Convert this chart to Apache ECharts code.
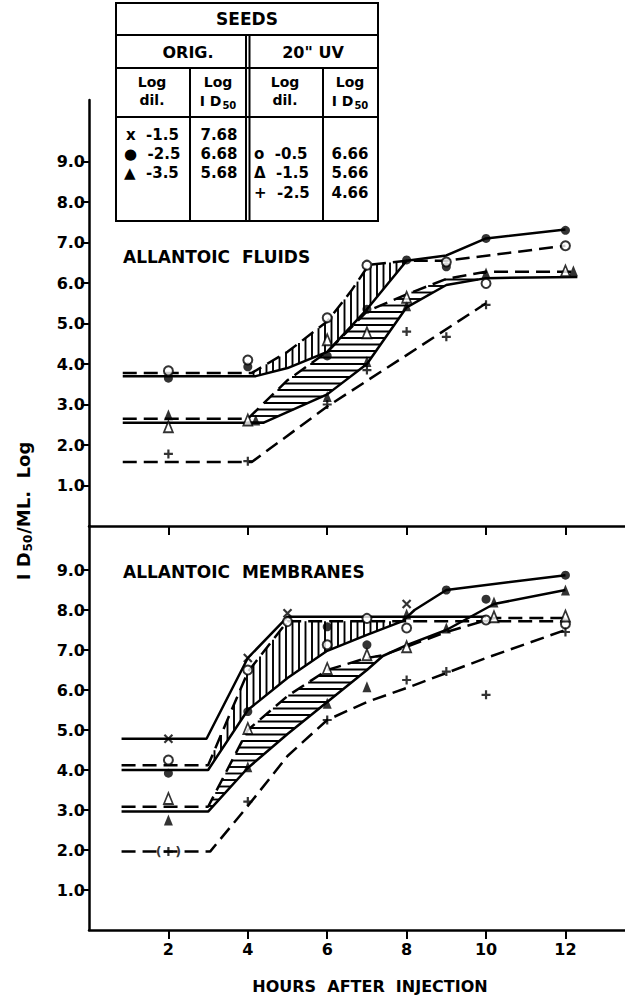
<!DOCTYPE html>
<html><head><meta charset="utf-8">
<script src="https://cdn.jsdelivr.net/npm/echarts@6/dist/echarts.min.js"></script>
<style>html,body{margin:0;padding:0;background:#fff}#c{width:625px;height:996px}</style>
</head><body><div id="c"></div>
<script>
// ---------- axis ticks ----------
const hourTicks = [2, 4, 6, 8, 10, 12];
const logTicks = [1, 2, 3, 4, 5, 6, 7, 8, 9];

// ---------- ALLANTOIC FLUIDS : plotted points ----------
const fluidsDot     = [[2,3.65],[4,3.93],[6,4.2],[7,5.35],[8,6.57],[9,6.4],[10,7.1],[12,7.3]];
const fluidsCircle  = [[2,3.83],[4,4.1],[6,5.14],[7,6.44],[9,6.52],[10,5.99],[12,6.92]];
const fluidsTri     = [[2,2.75],[4.2,2.62],[6,3.2],[7,4.06],[8,5.44],[10,6.25],[12.2,6.3]];
const fluidsOpenTri = [[2,2.45],[4,2.62],[6,4.6],[7,4.77],[8,5.65],[12,6.3]];
const fluidsPlus    = [[2,1.78],[4,1.6],[6,3.0],[7,3.85],[8,4.8],[9,4.67],[10,5.46]];
// ---------- ALLANTOIC FLUIDS : drawn curves ----------
const fluidsDotLine     = [[0.85,3.7],[4.2,3.7],[5,3.9],[6,4.3],[7,5.35],[8,6.55],[9,6.68],[10,7.1],[12,7.32]];
const fluidsCircleLine  = [[0.85,3.78],[4.1,3.78],[5,4.3],[6,5.05],[6.6,5.8],[7.05,6.45],[8,6.55],[9,6.55],[12,6.92]];
const fluidsTriLine     = [[0.85,2.55],[4.4,2.55],[6,3.25],[7,4.0],[8,5.4],[9,5.95],[10,6.12],[12.3,6.15]];
const fluidsOpenTriLine = [[0.85,2.65],[4.0,2.65],[5,3.6],[6,4.3],[7,5.3],[8,5.72],[9,6.1],[10,6.28],[12.3,6.28]];
const fluidsPlusLine    = [[0.85,1.58],[4.1,1.58],[6,2.95],[8,4.22],[10,5.5]];

// ---------- ALLANTOIC MEMBRANES : plotted points ----------
const memCross    = [[2,4.78],[4,6.8],[5,7.92],[8,8.15]];
const memCircle   = [[2,4.25],[4,6.5],[5,7.71],[6,7.13],[7,7.79],[8,7.55],[10,7.75],[12,7.65]];
const memDot      = [[2,3.92],[4,5.46],[6,7.58],[7,7.13],[9,8.5],[10,8.27],[12,8.87]];
const memOpenTri  = [[2,3.29],[4,5.04],[6,6.54],[7,6.88],[8,7.08],[10.2,7.83],[12,7.85]];
const memTri      = [[2,2.75],[4,4.08],[6,5.67],[7,6.08],[8,7.9],[9,7.55],[10.2,8.2],[12,8.5]];
const memPlus     = [[4,3.21],[6,5.25],[8,6.25],[9,6.46],[10,5.88],[12,7.45]];
const memPlusBracketed = [[2,1.96]];
// ---------- ALLANTOIC MEMBRANES : drawn curves ----------
const memCrossLine   = [[0.82,4.78],[2.96,4.78],[4,6.8],[5,7.83],[10,7.83]];
const memCircleLine  = [[0.82,4.12],[3.0,4.12],[4,6.45],[5,7.72],[12,7.72]];
const memDotLine     = [[0.82,4.0],[3.0,4.0],[4,5.5],[5,6.3],[6,6.98],[7,7.38],[7.9,7.72],[8.2,8.0],[9,8.5],[12,8.87]];
const memTriLine     = [[0.82,2.96],[3.0,2.96],[4,4.05],[5,4.9],[6,5.7],[7,6.5],[7.4,6.85],[8,7.12],[9,7.5],[10.2,8.15],[12,8.5]];
const memOpenTriLine = [[0.82,3.08],[3.0,3.08],[4,5.0],[5,5.85],[6,6.5],[7,6.8],[7.4,6.87],[8,7.08],[9,7.45],[10.2,7.8],[12,7.8]];
const memPlusLine    = [[0.82,1.96],[3.05,1.96],[4,3.1],[5,4.35],[6,5.25],[7,5.7],[8,6.05],[10,6.8],[12,7.5]];

// ---------- helpers ----------
const FONT = 'DejaVu Sans';
function interp(line, x) {
  for (let i = 0; i < line.length - 1; i++) {
    const [x0, y0] = line[i], [x1, y1] = line[i + 1];
    if (x >= x0 && x <= x1) return y0 + (y1 - y0) * (x - x0) / (x1 - x0);
  }
  return line[line.length - 1][1];
}
function bandPolygon(upper, lower, x0, x1) {
  const xs = l => [x0].concat(l.map(p => p[0]).filter(x => x > x0 && x < x1), [x1]);
  const up = xs(upper).map(x => [x, interp(upper, x)]);
  const lo = xs(lower).map(x => [x, interp(lower, x)]).reverse();
  return up.concat(lo);
}
function scanHatch(poly, dir, step, w) {
  const a = dir === 'v' ? 0 : 1, b = 1 - a;
  const vals = poly.map(p => p[a]);
  const lo = Math.min.apply(null, vals), hi = Math.max.apply(null, vals);
  const out = [];
  for (let s = Math.ceil(lo / step) * step; s <= hi; s += step) {
    const hits = [];
    for (let i = 0; i < poly.length; i++) {
      const p = poly[i], q = poly[(i + 1) % poly.length];
      if ((p[a] <= s && q[a] > s) || (q[a] <= s && p[a] > s)) {
        hits.push(p[b] + (q[b] - p[b]) * (s - p[a]) / (q[a] - p[a]));
      }
    }
    hits.sort((m, n) => m - n);
    for (let k = 0; k + 1 < hits.length; k += 2) {
      const shape = dir === 'v' ? {x1: s, y1: hits[k], x2: s, y2: hits[k + 1]}
                                : {x1: hits[k], y1: s, x2: hits[k + 1], y2: s};
      out.push({type: 'line', shape, style: {stroke: '#000', lineWidth: w}});
    }
  }
  return out;
}
function hatchSeries(upper, lower, x0, x1, dir, gi) {
  return {
    type: 'custom', xAxisIndex: gi, yAxisIndex: gi, data: [[x0, interp(lower, x0)]],
    silent: true, z: 2, animation: false,
    renderItem: function (params, api) {
      const poly = bandPolygon(upper, lower, x0, x1).map(p => api.coord(p));
      return {type: 'group', children: scanHatch(poly, dir, 6.5, 1.9)};
    }
  };
}
function lineSeries(data, dashed, gi) {
  return {type: 'line', xAxisIndex: gi, yAxisIndex: gi, data, symbol: 'none', silent: true,
    animation: false, z: 3,
    lineStyle: {color: '#000', width: 2.5, type: dashed ? [14, 7] : 'solid', cap: 'butt'}};
}
const SYM = {
  dot:     {symbol: 'circle', symbolSize: 9, itemStyle: {color: '#000'}},
  circle:  {symbol: 'circle', symbolSize: 9, itemStyle: {color: '#fff', borderColor: '#000', borderWidth: 2}},
  tri:     {symbol: 'triangle', symbolSize: [9, 11], itemStyle: {color: '#000'}},
  openTri: {symbol: 'triangle', symbolSize: [9, 11], itemStyle: {color: '#fff', borderColor: '#000', borderWidth: 1.8}},
  cross:   {symbol: 'path://M0,0L10,10M10,0L0,10', symbolSize: 8, itemStyle: {color: 'none', borderColor: '#000', borderWidth: 2.2}},
  plus:    {symbol: 'path://M5,0L5,10M0,5L10,5', symbolSize: 9, itemStyle: {color: 'none', borderColor: '#000', borderWidth: 2.2}}
};
function pointSeries(data, kind, gi, extra) {
  return Object.assign({type: 'scatter', xAxisIndex: gi, yAxisIndex: gi, data, silent: true,
    animation: false, z: 5}, SYM[kind], extra || {});
}

// ---------- axes ----------
const axisLine = {show: true, onZero: false, lineStyle: {color: '#000', width: 2.5}};
const labelFont = {color: '#000', fontFamily: FONT, fontWeight: 'bold', fontSize: 16};
function xAx(gi, labels) {
  return {gridIndex: gi, type: 'value', min: 0, max: 13.5, axisLine,
    axisTick: {show: true, customValues: hourTicks, length: 9, lineStyle: {color: '#000', width: 2}},
    axisLabel: labels ? Object.assign({show: true, customValues: hourTicks, margin: 11}, labelFont) : {show: false},
    splitLine: {show: false}};
}
function yAx(gi, max) {
  return {gridIndex: gi, type: 'value', min: 0, max, axisLine,
    axisTick: {show: true, customValues: logTicks, length: 8, lineStyle: {color: '#000', width: 2}},
    axisLabel: Object.assign({show: true, customValues: logTicks, margin: 4, formatter: v => v.toFixed(1)}, labelFont),
    splitLine: {show: false}};
}

// ---------- legend table (graphic) ----------
const T = {l: 116, r: 378, t: 3, b: 221};
function hl(y, x1, x2) { return {type: 'line', shape: {x1, y1: y, x2, y2: y}, style: {stroke: '#000', lineWidth: 2}}; }
function vl(x, y1, y2) { return {type: 'line', shape: {x1: x, y1, x2: x, y2}, style: {stroke: '#000', lineWidth: 2}}; }
function txt(text, x, y, size, align, rich) {
  const s = {text, x, y, fill: '#000', font: 'bold ' + size + 'px "' + FONT + '"', align: align || 'center', verticalAlign: 'middle'};
  if (rich) s.rich = rich;
  return {type: 'text', style: s};
}
const subRich = {
  n: {font: 'bold 14px "' + FONT + '"', fill: '#000'},
  s: {font: 'bold 10px "' + FONT + '"', fill: '#000', padding: [8, 0, 0, 1]}
};
const tableGraphic = [
  {type: 'rect', shape: {x: T.l, y: T.t, width: T.r - T.l, height: T.b - T.t}, style: {fill: '#fff', stroke: '#000', lineWidth: 2}},
  hl(35, T.l, T.r), hl(68, T.l, T.r), hl(117, T.l, T.r),
  vl(246, 35, T.b), vl(249.5, 35, T.b), vl(190, 68, T.b), vl(323, 68, T.b),
  txt('SEEDS', 247, 19, 17),
  txt('ORIG.', 188, 52, 16), txt('20" UV', 313, 52, 16),
  txt('Log', 152, 82, 14), txt('dil.', 152, 100, 14),
  txt('Log', 218, 82, 14), txt('{n|I D}{s|50}', 218, 101, 14, 'center', subRich),
  txt('Log', 285, 82, 14), txt('dil.', 285, 100, 14),
  txt('Log', 350, 82, 14), txt('{n|I D}{s|50}', 350, 101, 14, 'center', subRich),
  txt('x  -1.5', 126, 135, 15, 'left'), txt('●  -2.5', 124, 154, 15, 'left'), txt('▲  -3.5', 124, 173, 15, 'left'),
  txt('7.68', 219, 135, 15), txt('6.68', 219, 154, 15), txt('5.68', 219, 173, 15),
  txt('o  -0.5', 254, 154, 15, 'left'), txt('Δ  -1.5', 254, 173, 15, 'left'), txt('+  -2.5', 254, 193, 15, 'left'),
  txt('6.66', 350, 154, 15), txt('5.66', 350, 173, 15), txt('4.66', 350, 193, 15)
];
const otherGraphic = [
  txt('ALLANTOIC  FLUIDS', 123, 257, 17, 'left'),
  txt('ALLANTOIC  MEMBRANES', 123, 572, 17, 'left'),
  txt('HOURS  AFTER  INJECTION', 370, 986, 16),
  {type: 'text', x: 23, y: 511, rotation: Math.PI / 2,
   style: {text: '{n|I D}{s|50}{n|/ML.  Log}', x: 0, y: 0, align: 'center', verticalAlign: 'middle',
     rich: {n: {font: 'bold 18px "' + FONT + '"', fill: '#000'}, s: {font: 'bold 12px "' + FONT + '"', fill: '#000', padding: [9, 1, 0, 1]}}}}
];

const chart = echarts.init(document.getElementById('c'), null, {renderer: 'svg', width: 625, height: 996});
chart.setOption({
  backgroundColor: '#fff',
  animation: false,
  grid: [
    {left: 89, top: 100, width: 536, height: 426},
    {left: 89, top: 526, width: 536, height: 404}
  ],
  xAxis: [xAx(0, false), xAx(1, true)],
  yAxis: [yAx(0, 426 / 40.5), yAx(1, 404 / 40)],
  series: [
    // fluids
    hatchSeries(fluidsCircleLine, fluidsDotLine, 4.1, 8, 'v', 0),
    hatchSeries(fluidsOpenTriLine, fluidsTriLine, 4.0, 10, 'h', 0),
    lineSeries(fluidsDotLine, false, 0),
    lineSeries(fluidsCircleLine, true, 0),
    lineSeries(fluidsTriLine, false, 0),
    lineSeries(fluidsOpenTriLine, true, 0),
    lineSeries(fluidsPlusLine, true, 0),
    pointSeries(fluidsDot, 'dot', 0),
    pointSeries(fluidsCircle, 'circle', 0),
    pointSeries(fluidsTri, 'tri', 0),
    pointSeries(fluidsOpenTri, 'openTri', 0),
    pointSeries(fluidsPlus, 'plus', 0),
    // membranes
    hatchSeries(memCircleLine, memDotLine, 3.0, 7.9, 'v', 1),
    hatchSeries(memOpenTriLine, memTriLine, 3.0, 7.4, 'h', 1),
    lineSeries(memCrossLine, false, 1),
    lineSeries(memCircleLine, true, 1),
    lineSeries(memDotLine, false, 1),
    lineSeries(memTriLine, false, 1),
    lineSeries(memOpenTriLine, true, 1),
    lineSeries(memPlusLine, true, 1),
    pointSeries(memCross, 'cross', 1),
    pointSeries(memCircle, 'circle', 1),
    pointSeries(memDot, 'dot', 1),
    pointSeries(memOpenTri, 'openTri', 1),
    pointSeries(memTri, 'tri', 1),
    pointSeries(memPlus, 'plus', 1),
    pointSeries(memPlusBracketed, 'plus', 1, {label: {show: true, position: 'inside', formatter: '(   )', color: '#000', fontFamily: FONT, fontWeight: 'bold', fontSize: 13}})
  ],
  graphic: tableGraphic.concat(otherGraphic)
});
</script></body></html>
